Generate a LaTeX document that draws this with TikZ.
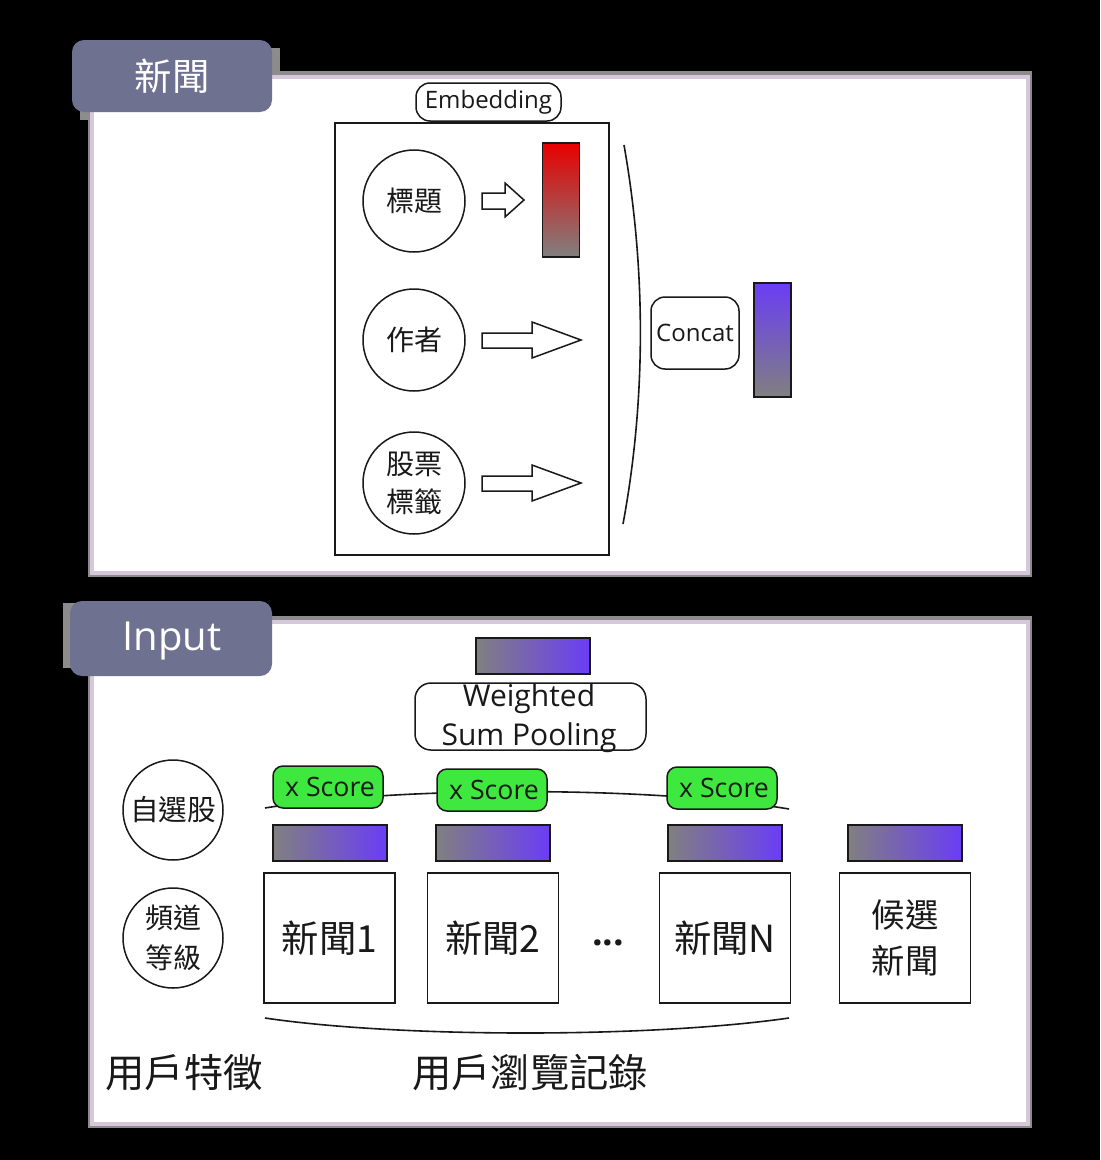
\documentclass[tikz,border=0pt]{standalone}
\usepackage{fontspec}
\setmainfont{Open Sans}
\newfontfamily\cjk{Noto Sans CJK TC}
\definecolor{tabc}{RGB}{111,113,145}
\definecolor{lav}{RGB}{214,200,218}
\definecolor{shad}{RGB}{140,140,140}
\definecolor{grn}{RGB}{63,232,63}
\definecolor{pur}{RGB}{106,61,245}
\definecolor{gry}{RGB}{128,128,128}
\definecolor{redc}{RGB}{232,0,0}
\definecolor{ink}{RGB}{25,25,25}
\def\u{0.75pt}
\tikzset{
  tabbox/.style={fill=tabc, rounded corners=12*\u, text=white, inner sep=0},
  circ/.style={circle, draw=ink, line width=1.5*\u, minimum size=102*\u, inner sep=0, align=center, text=ink},
  rbox/.style={draw=ink, line width=1.5*\u, inner sep=0, align=center, text=ink},
  vbar/.style={draw=ink, line width=1.5*\u, inner sep=0, minimum width=37*\u, minimum height=114*\u},
  hbar/.style={draw=ink, line width=1.5*\u, inner sep=0, minimum width=114*\u, minimum height=36*\u, left color=gry, right color=pur},
  score/.style={rbox, fill=grn, rounded corners=10*\u, minimum width=110*\u, minimum height=42*\u, font=\fontsize{20}{24}\selectfont},
  newsbox/.style={rbox, minimum width=131*\u, minimum height=130*\u},
  blockarrow/.style={draw=ink, fill=white, line width=1.5*\u},
  curve/.style={draw=ink, line width=1.6*\u},
}
\begin{document}
\begin{tikzpicture}[x=0.75pt,y=-0.75pt]
\useasboundingbox (0,0) rectangle (1100,1160);
\fill[black] (0,0) rectangle (1100,1160);

% ---------- panel 1 ----------
\fill[shad] (80,48) rectangle (280,120);
\fill[shad] (88,71) rectangle (1032,577);
\draw[fill=white, draw=lav, line width=4*\u] (92,77) rectangle (1028,573);
\node[tabbox, minimum width=200*\u, minimum height=72*\u, font=\cjk\fontsize{28}{34}\selectfont] (tab1) at (172,76) {新聞};

\node[rbox, rounded corners=14*\u, minimum width=145*\u, minimum height=38*\u, font=\fontsize{18}{22}\selectfont] (emb) at (488.5,102) {Embedding};
\node[rbox, minimum width=274*\u, minimum height=432*\u] (embbox) at (472,339) {};

\node[circ, font=\cjk\fontsize{21}{28.5}\selectfont] (title) at (414,201) {標題};
\node[circ, font=\cjk\fontsize{21}{28.5}\selectfont] (author) at (414,340) {作者};
\node[circ, font=\cjk\fontsize{21}{28.5}\selectfont] (tag) at (414,483) {股票\\標籤};

\draw[blockarrow] (482,193) -- (505,193) -- (505,183) -- (524,200) -- (505,217) -- (505,209) -- (482,209) -- cycle;
\draw[blockarrow] (482,333) -- (532,333) -- (532,322) -- (581,340) -- (532,358) -- (532,348) -- (482,348) -- cycle;
\draw[blockarrow] (482,476) -- (532,476) -- (532,465) -- (581,483) -- (532,501) -- (532,491) -- (482,491) -- cycle;

\node[vbar, top color=redc, bottom color=gry] (redbar) at (561,200) {};

\draw[curve] (624,145) .. controls (646,270) and (646,400) .. (623,524);

\node[rbox, rounded corners=14*\u, minimum width=88*\u, minimum height=72*\u, font=\fontsize{18}{22}\selectfont] (concat) at (695,333) {Concat};
\node[vbar, top color=pur, bottom color=gry] (purbar) at (772.5,340) {};

% ---------- panel 2 ----------
\fill[shad] (63,603) rectangle (262,668);
\fill[shad] (88,616) rectangle (1032,1128);
\draw[fill=white, draw=lav, line width=4*\u] (92,622) rectangle (1028,1124);
\node[tabbox, minimum width=202*\u, minimum height=75*\u] (tab2) at (171,638.5) {};
\node[text=white, font=\fontsize{30}{36}\selectfont, inner sep=0] (tab2t) at (172,641) {Input};

\node[hbar] (outbar) at (533,656) {};
\node[rbox, rounded corners=16*\u, minimum width=231*\u, minimum height=67*\u] (wsp) at (530.5,716.5) {};
\node[text=ink, align=center, inner sep=0, font=\fontsize{22.5}{29}\selectfont] (wspt) at (529,718) {Weighted\\Sum Pooling};

\draw[curve] (265,808) .. controls (400,786) and (650,786) .. (789,809);
\node[score] (s1) at (328,787) {\hspace*{3pt}x Score};
\node[score] (s2) at (492,790) {\hspace*{3pt}x Score};
\node[score] (s3) at (722,788) {\hspace*{3pt}x Score};

\node[hbar] (b1) at (330,843) {};
\node[hbar] (b2) at (493,843) {};
\node[hbar] (b3) at (725,843) {};
\node[hbar] (b4) at (905,843) {};

\node[newsbox, font=\cjk\fontsize{28}{34}\selectfont] (n1) at (329.5,938) {新聞1};
\node[newsbox, font=\cjk\fontsize{28}{34}\selectfont] (n2) at (493,938) {新聞2};
\node[newsbox, font=\cjk\fontsize{28}{34}\selectfont] (nN) at (725,938) {新聞N};
\node[newsbox, font=\cjk\fontsize{25}{35}\selectfont] (cand) at (905,938) {候選\\新聞};
\node[text=ink, font=\bfseries\fontsize{28}{34}\selectfont] (dots) at (608,943) {...};

\draw[curve] (265,1018) .. controls (400,1038) and (650,1038) .. (789,1018);

\node[circ, minimum size=100*\u, font=\cjk\fontsize{21.5}{28}\selectfont] (fav) at (173,810) {自選股};
\node[circ, minimum size=100*\u, font=\cjk\fontsize{21}{30}\selectfont] (chan) at (173,938) {頻道\\等級};

\node[text=ink, font=\cjk\fontsize{29.5}{34}\selectfont] (uf) at (184,1073) {用戶特徵};
\node[text=ink, font=\cjk\fontsize{29.5}{34}\selectfont] (ub) at (530,1073) {用戶瀏覽記錄};
\end{tikzpicture}
\end{document}
